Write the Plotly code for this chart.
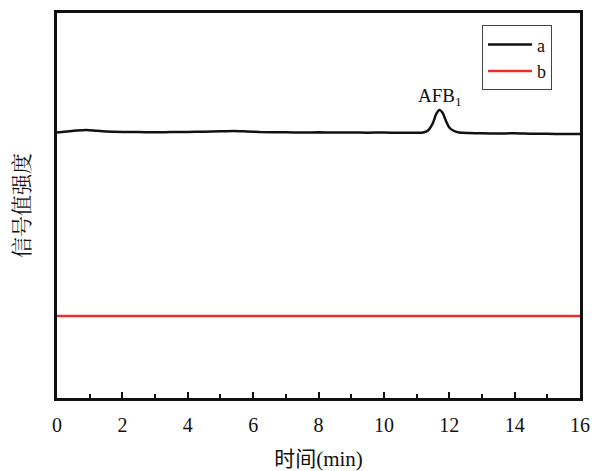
import plotly.graph_objects as go

# time (min)
time_a = [0, 0.3, 0.6, 0.9, 1.2, 1.5, 2.0, 2.5, 3.0, 3.5, 4.0, 4.5, 5.0, 5.4, 5.8, 6.2,
          7.0, 7.5, 8.0, 8.5, 9.0, 9.5, 10.0, 10.5, 11.0, 11.2, 11.35, 11.5, 11.6, 11.7,
          11.8, 11.9, 12.0, 12.15, 12.3, 12.6, 13.0, 13.5, 14.0, 14.5, 15.0, 15.5, 16.0]
# signal intensity, trace a (arbitrary units)
signal_a = [265.5, 266.5, 267.5, 268.0, 267.2, 266.5, 266.0, 266.0, 265.7, 266.0, 266.0,
            266.3, 266.7, 267.0, 266.5, 266.0, 265.7, 265.5, 265.7, 265.5, 265.5, 265.3,
            265.5, 265.2, 265.2, 265.5, 267.5, 275.0, 284.0, 288.0, 285.0, 277.0, 270.5,
            267.0, 265.5, 265.0, 264.7, 264.5, 264.7, 264.3, 264.2, 264.0, 264.0]

time_b = [0, 1.0, 2.0, 3.0, 4.0, 5.0, 6.0, 7.0, 8.0, 9.0, 10.0, 11.0, 11.7, 12.5, 13.0,
          14.0, 15.0, 16.0]
signal_b = [82.0, 82.2, 81.8, 82.0, 82.1, 81.9, 82.0, 82.1, 81.9, 82.0, 82.1, 82.2, 82.6,
            82.2, 82.0, 82.1, 81.9, 82.0]

x_ticks = [0, 2, 4, 6, 8, 10, 12, 14, 16]
x_tick_labels = ["0", "2", "4", "6", "8", "10", "12", "14", "16"]

serif = "Liberation Serif, Times New Roman, serif"
cjk = "Noto Serif CJK SC, Noto Sans CJK SC, sans-serif"

fig = go.Figure()
fig.add_trace(go.Scatter(x=time_a, y=signal_a, mode="lines", name="a",
                         line=dict(color="#111111", width=2.5, shape="spline", smoothing=0.6)))
fig.add_trace(go.Scatter(x=time_b, y=signal_b, mode="lines", name="b",
                         line=dict(color="#e8302a", width=2.5)))

fig.add_annotation(x=11.72, y=288, text="AFB<sub>1</sub>", showarrow=False,
                   yshift=13, font=dict(family=serif, size=19, color="#111111"))

fig.update_layout(
    width=592, height=471,
    margin=dict(l=57, r=12, t=13, b=73, autoexpand=False),
    paper_bgcolor="white", plot_bgcolor="white",
    showlegend=True,
    legend=dict(x=0.8126, y=0.968, xanchor="left", yanchor="top",
                bordercolor="#444444", borderwidth=1, bgcolor="white",
                font=dict(family=serif, size=18, color="#111111"),
                itemwidth=44, entrywidth=72),
    xaxis=dict(range=[0, 16], tickvals=x_ticks, ticktext=x_tick_labels,
               ticks="inside", ticklen=6, tickwidth=2, tickcolor="#111111",
               minor=dict(dtick=1, ticks="inside", ticklen=4, tickwidth=2, tickcolor="#111111"),
               showline=True, linewidth=2.5, linecolor="#111111", mirror=True,
               showgrid=False, zeroline=False, ticklabelstandoff=7, automargin=False,
               tickfont=dict(family=serif, size=20, color="#111111"),
               title=dict(text="时间(min)", font=dict(family=serif + ", Noto Sans CJK SC", size=21, color="#111111"),
                          standoff=22)),
    yaxis=dict(range=[0, 385], showticklabels=False, ticks="", automargin=False,
               showline=True, linewidth=2.5, linecolor="#111111", mirror=True,
               showgrid=False, zeroline=False,
               title=dict(text="信号值强度", font=dict(family=cjk, size=21, color="#111111"),
                          standoff=19)),
)

fig.write_html("out.html", config={"displayModeBar": False},
               post_script="document.body.style.margin='0';document.body.style.overflow='hidden';")
